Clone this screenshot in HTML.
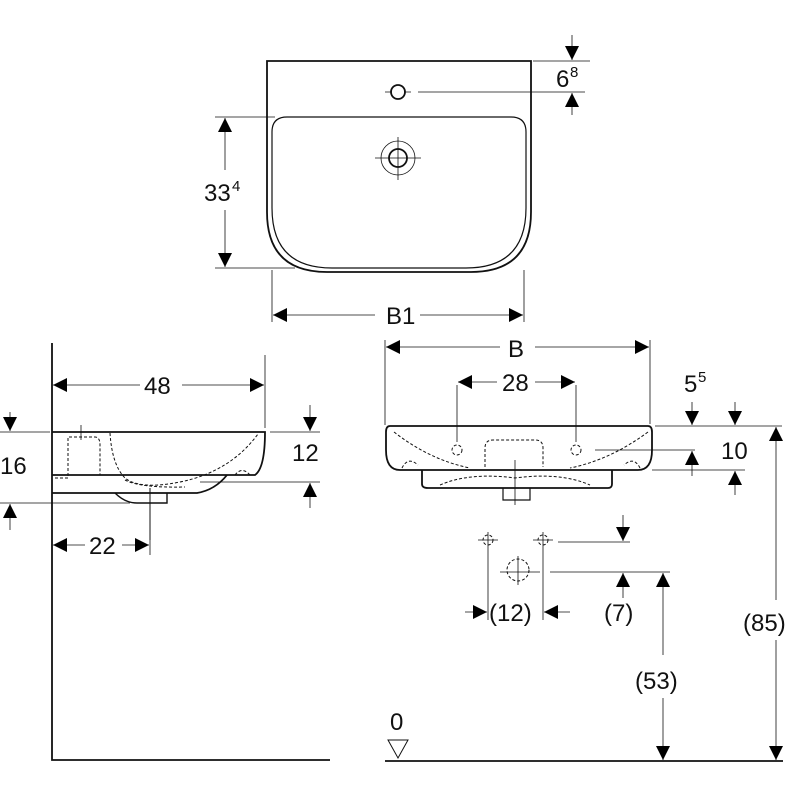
<!DOCTYPE html>
<html><head><style>html,body{margin:0;padding:0;background:#fff}svg{display:block}</style></head><body>
<svg width="800" height="800" viewBox="0 0 800 800" xmlns="http://www.w3.org/2000/svg" font-family="Liberation Sans, sans-serif" fill="none" stroke="#111">
<defs>
<marker id="a" viewBox="0 0 10 10" refX="10" refY="5" markerWidth="14" markerHeight="14" markerUnits="userSpaceOnUse" orient="auto"><path d="M0,0L10,5L0,10z" fill="#000" stroke="none"/></marker>
</defs>
<g stroke-width="1.8">
<path d="M267,61H531V212Q531,272 471,272H327Q267,272 267,212Z"/>
<path d="M287,117H511Q526,117 526,132V208Q526,268 466,268H332Q272,268 272,208V132Q272,117 287,117Z" stroke-width="1.2"/>
<circle cx="398" cy="92" r="7"/>
<circle cx="398" cy="158" r="9"/>
<circle cx="398" cy="158" r="17" stroke-width="0.8"/>
</g>
<g stroke-width="0.8">
<path d="M385,92H392M404,92H411M418,92H585M375,158H421M398,137V180"/>
<path d="M533,61H590M215,117H275M215,268H295M272,270V322M524,270V322"/>
<line x1="225" y1="170" x2="225" y2="118" marker-end="url(#a)"/>
<line x1="225" y1="210" x2="225" y2="267" marker-end="url(#a)"/>
<line x1="375" y1="315" x2="273" y2="315" marker-end="url(#a)"/>
<line x1="420" y1="315" x2="523" y2="315" marker-end="url(#a)"/>
<line x1="572" y1="35" x2="572" y2="60" marker-end="url(#a)"/>
<line x1="572" y1="115" x2="572" y2="93" marker-end="url(#a)"/>
</g>
<g fill="#111" stroke="none" font-size="24">
<text x="204" y="201">33</text><text x="232" y="191" font-size="15">4</text>
<text x="386" y="324">B1</text>
<text x="556" y="87">6</text><text x="570" y="77" font-size="15">8</text>
</g>
<!-- side view -->
<g stroke-width="1.8">
<path d="M52,343V760H330"/>
<path d="M52,432H265Q265,468 255,475H52"/>
<path d="M227,475Q215,490 197,493H52"/>
<path d="M115,493Q125,503 137,503H167V493" stroke-width="1.4"/>
</g>
<g stroke-width="1" stroke-dasharray="3,2">
<path d="M55,478H68V437H95Q100,437 100,445V475"/>
<path d="M110,433Q112,465 125,478Q140,490 180,482Q230,472 258,434"/>
<path d="M235,475Q242,466 250,475"/>
<path d="M125,480Q140,488 185,487"/>
<path d="M150,488V540" stroke-dasharray="none"/>
</g>
<g stroke-width="0.8">
<path d="M0,432H50M265,355V428M270,432H320M200,482H320M0,503H130M150,490V555M81,425V440"/>
<line x1="140" y1="385" x2="53" y2="385" marker-end="url(#a)"/>
<line x1="182" y1="385" x2="264" y2="385" marker-end="url(#a)"/>
<line x1="10" y1="412" x2="10" y2="431" marker-end="url(#a)"/>
<line x1="10" y1="530" x2="10" y2="504" marker-end="url(#a)"/>
<line x1="310" y1="405" x2="310" y2="431" marker-end="url(#a)"/>
<line x1="310" y1="508" x2="310" y2="483" marker-end="url(#a)"/>
<line x1="85" y1="545" x2="53" y2="545" marker-end="url(#a)"/>
<line x1="122" y1="545" x2="149" y2="545" marker-end="url(#a)"/>
</g>
<g fill="#111" stroke="none" font-size="24">
<text x="144" y="394">48</text><text x="0" y="474">16</text><text x="292" y="461">12</text><text x="89" y="554">22</text>
</g>
<!-- front view -->
<g stroke-width="1.8">
<path d="M390,426H648Q652,426 652,432V450Q652,470 638,470H400Q386,470 386,450V432Q386,426 390,426Z"/>
<path d="M422,470V484Q422,488 428,488H608Q612,488 612,484V470"/>
<path d="M503,488V500H530V488" stroke-width="1.2"/>
</g>
<g stroke-width="1" stroke-dasharray="3,2">
<path d="M394,432Q430,460 470,468M648,432Q610,460 570,468"/>
<path d="M485,467V448Q485,440 493,440H535Q543,440 543,448V467"/>
<path d="M402,468Q408,456 418,465M640,468Q634,456 624,465"/>
<path d="M440,485Q470,472 515,478Q560,472 590,485"/>
<circle cx="457" cy="450" r="5"/><circle cx="576" cy="450" r="5"/>
<circle cx="488" cy="540" r="5"/><circle cx="543" cy="540" r="5"/>
<circle cx="518" cy="570" r="11"/>
</g>
<g stroke-width="0.8">
<path d="M385,340V425M650,340V424M457,385V442M576,385V442M515,460V505"/>
<path d="M655,426H782M595,450H695M652,470H745"/>
<path d="M478,540H498M533,540H553M558,542H630M500,572H540M550,572H670M488,532V620M543,532V620M518,556V585"/>
<path d="M385,761H783" stroke-width="1.8"/>
<path d="M388,740H408L398,758Z" stroke-width="1"/>
<line x1="500" y1="347" x2="386" y2="347" marker-end="url(#a)"/>
<line x1="535" y1="347" x2="649" y2="347" marker-end="url(#a)"/>
<line x1="497" y1="382" x2="458" y2="382" marker-end="url(#a)"/>
<line x1="535" y1="382" x2="575" y2="382" marker-end="url(#a)"/>
<line x1="692" y1="402" x2="692" y2="425" marker-end="url(#a)"/>
<line x1="692" y1="476" x2="692" y2="451" marker-end="url(#a)"/>
<line x1="735" y1="402" x2="735" y2="425" marker-end="url(#a)"/>
<line x1="735" y1="495" x2="735" y2="471" marker-end="url(#a)"/>
<line x1="776" y1="600" x2="776" y2="427" marker-end="url(#a)"/>
<line x1="776" y1="640" x2="776" y2="760" marker-end="url(#a)"/>
<line x1="663" y1="655" x2="663" y2="573" marker-end="url(#a)"/>
<line x1="663" y1="698" x2="663" y2="760" marker-end="url(#a)"/>
<line x1="623" y1="515" x2="623" y2="541" marker-end="url(#a)"/>
<line x1="623" y1="598" x2="623" y2="573" marker-end="url(#a)"/>
<line x1="465" y1="612" x2="487" y2="612" marker-end="url(#a)"/>
<line x1="570" y1="612" x2="544" y2="612" marker-end="url(#a)"/>
</g>
<g fill="#111" stroke="none" font-size="24">
<text x="508" y="357">B</text><text x="502" y="391">28</text>
<text x="684" y="392">5</text><text x="698" y="382" font-size="15">5</text>
<text x="721" y="459">10</text>
<text x="743" y="631">(85)</text>
<text x="635" y="689">(53)</text>
<text x="604" y="621">(7)</text>
<text x="489" y="621">(12)</text>
<text x="390" y="730">0</text>
</g>
</svg>
</body></html>
